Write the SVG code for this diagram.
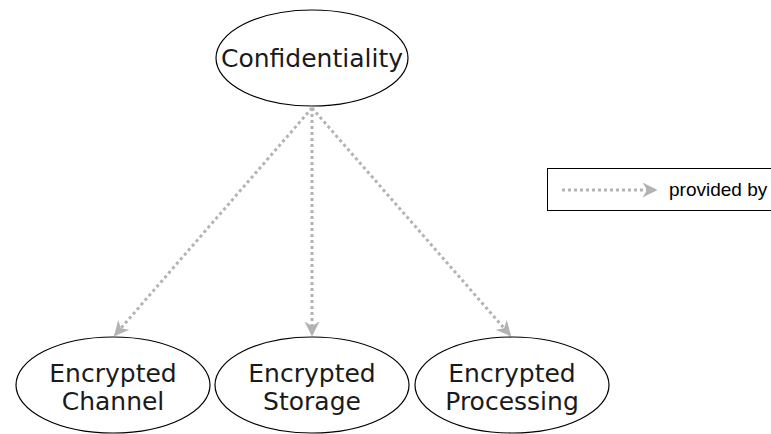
<svg xmlns="http://www.w3.org/2000/svg" width="771" height="434" viewBox="0 0 771 434">
<defs>
<style>
.node ellipse{fill:#ffffff;stroke:#000000;stroke-width:1.2}
.node text{font-family:"DejaVu Sans",Verdana,sans-serif;font-size:25px;fill:#1a1a1a;text-anchor:middle}
.edge{stroke:#b3b3b3;stroke-width:3;stroke-dasharray:3 3;fill:none}
.legend text{font-family:"Liberation Sans",Arial,sans-serif;font-size:19px;fill:#000000}
</style>
<marker id="arr" viewBox="0 0 10 10" refX="9" refY="5" markerWidth="5" markerHeight="5" orient="auto" markerUnits="strokeWidth">
<path d="M0,0 L10,5 L0,10 L3,5 Z" fill="#b3b3b3"/>
</marker>
</defs>
<rect width="771" height="434" fill="#ffffff"/>
<g id="connectors">
<line class="edge" x1="312" y1="108" x2="115" y2="335" marker-end="url(#arr)"/>
<line class="edge" x1="312" y1="108" x2="312" y2="335" marker-end="url(#arr)"/>
<line class="edge" x1="312" y1="108" x2="510" y2="335" marker-end="url(#arr)"/>
</g>
<g id="confidentiality" class="node">
<ellipse cx="312" cy="58" rx="96" ry="48"/>
<text x="312" y="67">Confidentiality</text>
</g>
<g id="encrypted-channel" class="node">
<ellipse cx="113" cy="385" rx="97" ry="48"/>
<text x="113" y="382">Encrypted</text>
<text x="113" y="410">Channel</text>
</g>
<g id="encrypted-storage" class="node">
<ellipse cx="312" cy="385" rx="97" ry="48"/>
<text x="312" y="382">Encrypted</text>
<text x="312" y="410">Storage</text>
</g>
<g id="encrypted-processing" class="node">
<ellipse cx="512" cy="385" rx="97" ry="48"/>
<text x="512" y="382">Encrypted</text>
<text x="512" y="410">Processing</text>
</g>
<g id="legend" class="legend">
<rect x="547.5" y="168.5" width="240" height="42" fill="#ffffff" stroke="#000000" stroke-width="1"/>
<line class="edge" x1="562" y1="190" x2="656" y2="190" marker-end="url(#arr)"/>
<text x="669" y="196">provided by</text>
</g>
</svg>
